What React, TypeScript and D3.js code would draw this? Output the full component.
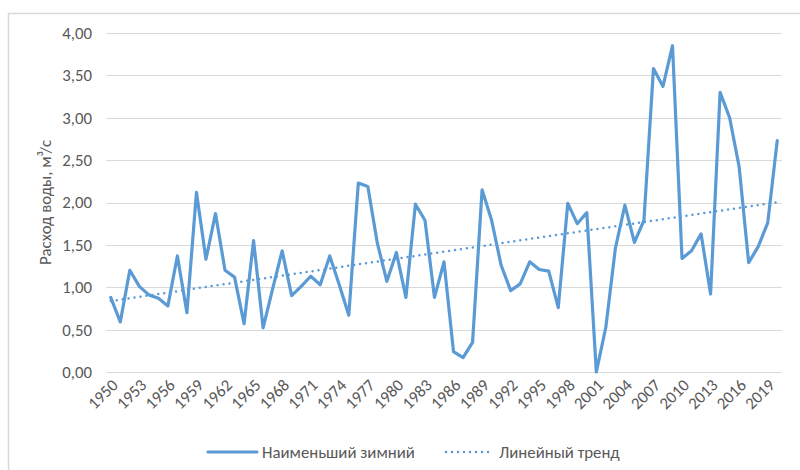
import React from 'react';
import * as d3 from 'd3';

// Наименьший зимний расход воды, м³/с (1950–2020)
const years: number[] = d3.range(1950, 2021);
const flow: number[] = [
  0.88, 0.59, 1.20, 1.01, 0.91, 0.87, 0.78, 1.37, 0.70, 2.12,
  1.33, 1.87, 1.20, 1.12, 0.57, 1.55, 0.52, 0.98, 1.43, 0.90,
  1.01, 1.13, 1.03, 1.37, 1.03, 0.67, 2.23, 2.19, 1.52, 1.07,
  1.41, 0.88, 1.98, 1.79, 0.88, 1.30, 0.24, 0.17, 0.35, 2.15,
  1.79, 1.26, 0.96, 1.04, 1.30, 1.21, 1.19, 0.76, 1.99, 1.75,
  1.88, 0.00, 0.53, 1.46, 1.97, 1.53, 1.79, 3.58, 3.37, 3.85,
  1.34, 1.43, 1.63, 0.92, 3.30, 3.00, 2.42, 1.29, 1.48, 1.76,
  2.73,
];
const yTicks: number[] = [0, 0.5, 1, 1.5, 2, 2.5, 3, 3.5, 4];
const xLabelYears: number[] = years.filter((y) => (y - 1950) % 3 === 0);

const seriesName = 'Наименьший зимний';
const trendName = 'Линейный тренд';
const yTitle = 'Расход воды, м³/с';

const W = 800;
const H = 470;
const COLOR = '#5B9BD5';
const TEXT = '#595959';
const GRID = '#D9D9D9';
const FONT = 'Calibri, Carlito, Roboto, sans-serif';
const FS = 16.8;

// least-squares trend, the same fit Excel draws
function linearFit(xs: number[], ys: number[]) {
  const mx = d3.mean(xs) as number;
  const my = d3.mean(ys) as number;
  let num = 0;
  let den = 0;
  xs.forEach((x, i) => {
    num += (x - mx) * (ys[i] - my);
    den += (x - mx) * (x - mx);
  });
  const b = num / den;
  return (x: number) => my + b * (x - mx);
}

const App: React.FC = () => {
  const margin = { left: 106, right: 782, top: 33, bottom: 372 };

  const x = d3.scalePoint<number>()
    .domain(years)
    .range([margin.left, margin.right])
    .padding(0.5);

  const y = d3.scaleLinear().domain([0, 4]).range([margin.bottom, margin.top]);

  const fmt = (v: number) => v.toFixed(2).replace('.', ',');

  const line = d3.line<number>()
    .x((_, i) => x(years[i]) as number)
    .y((d) => y(d));

  const trend = linearFit(years, flow);
  const trendPts = [years[0], years[years.length - 1]];
  const trendLine = d3.line<number>()
    .x((d) => x(d) as number)
    .y((d) => y(trend(d)));

  const legendY = 452;

  return (
    <svg
      width={W}
      height={H}
      style={{ position: 'absolute', left: 0, top: 0, background: '#fff' }}
      fontFamily={FONT}
    >
      {/* chart frame */}
      <rect x={8.5} y={13.5} width={900} height={600} fill="#fff" stroke={GRID} strokeWidth={1.5} />

      {/* grid */}
      {yTicks.map((t) => (
        <g key={t}>
          <line x1={margin.left} x2={margin.right} y1={Math.round(y(t)) + 0.5} y2={Math.round(y(t)) + 0.5} stroke={GRID} strokeWidth={1} />
          <text x={92} y={y(t)} dy="0.35em" textAnchor="end" fontSize={FS} fill={TEXT}>
            {fmt(t)}
          </text>
        </g>
      ))}

      {/* x labels */}
      {xLabelYears.map((yr) => {
        const px = (x(yr) as number) + 4;
        const py = 382;
        return (
          <text
            key={yr}
            x={px}
            y={py}
            textAnchor="end"
            fontSize={FS}
            fill={TEXT}
            transform={`rotate(-45 ${px} ${py})`}
            dy="0.35em"
          >
            {yr}
          </text>
        );
      })}

      {/* y title */}
      <text
        transform={`translate(45 ${(margin.top + margin.bottom) / 2}) rotate(-90)`}
        textAnchor="middle"
        dy="0.35em"
        fontSize={FS}
        fill={TEXT}
      >
        {yTitle}
      </text>

      {/* trend */}
      <path
        d={trendLine(trendPts) || ''}
        fill="none"
        stroke={COLOR}
        strokeWidth={2.5}
        strokeDasharray="0 6"
        strokeLinecap="round"
      />

      {/* series */}
      <path d={line(flow) || ''} fill="none" stroke={COLOR} strokeWidth={3.2} strokeLinejoin="round" strokeLinecap="round" />

      {/* legend */}
      <line x1={208} x2={257} y1={legendY} y2={legendY} stroke={COLOR} strokeWidth={3.2} strokeLinecap="round" />
      <text x={262} y={legendY} dy="0.35em" fontSize={FS} fill={TEXT}>{seriesName}</text>
      <line x1={446} x2={490} y1={legendY} y2={legendY} stroke={COLOR} strokeWidth={2.5} strokeDasharray="0 6" strokeLinecap="round" />
      <text x={499} y={legendY} dy="0.35em" fontSize={FS} fill={TEXT}>{trendName}</text>
    </svg>
  );
};

export default App;
